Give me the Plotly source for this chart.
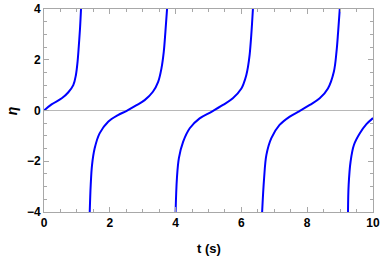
import plotly.graph_objects as go

# Branches of eta(t)
t1 = [0.0, 0.23, 0.54, 0.74, 0.89, 0.97, 1.02, 1.06, 1.095, 1.125]
e1 = [0.0, 0.24, 0.48, 0.72, 1.0, 1.40, 1.92, 2.58, 3.24, 4.0]

t2 = [1.39, 1.42, 1.46, 1.54, 1.69, 1.95, 2.25, 2.5, 2.8, 3.06, 3.31, 3.47, 3.57, 3.64, 3.69, 3.74]
e2 = [-4.0, -2.93, -2.15, -1.49, -0.90, -0.44, -0.18, -0.02, 0.2, 0.41, 0.74, 1.13, 1.66, 2.31, 3.10, 4.0]

t3 = [4.0, 4.04, 4.10, 4.23, 4.43, 4.73, 5.09, 5.44, 5.74, 6.0, 6.07, 6.15, 6.20, 6.25, 6.30, 6.35]
e3 = [-4.0, -2.67, -1.88, -1.23, -0.70, -0.31, -0.05, 0.22, 0.48, 0.87, 1.07, 1.40, 1.72, 2.19, 2.97, 4.0]

t4 = [6.63, 6.69, 6.76, 6.91, 7.16, 7.47, 7.77, 8.08, 8.38, 8.63, 8.81, 8.89, 8.94, 8.99]
e4 = [-4.0, -2.67, -1.75, -1.09, -0.57, -0.24, -0.02, 0.22, 0.48, 0.87, 1.53, 2.31, 3.10, 4.0]

t5 = [9.24, 9.26, 9.32, 9.42, 9.60, 9.80, 10.0]
e5 = [-4.0, -2.93, -2.0, -1.36, -0.90, -0.54, -0.30]

x_ticks = [0, 2, 4, 6, 8, 10]
y_ticks = [-4, -2, 0, 2, 4]

fig = go.Figure()
for tt, ee in [(t1, e1), (t2, e2), (t3, e3), (t4, e4), (t5, e5)]:
    fig.add_trace(go.Scatter(x=tt, y=ee, mode="lines",
                             line=dict(color="#0000ff", width=2, shape="spline", smoothing=1.0),
                             showlegend=False, hoverinfo="skip"))

frame = "#a8a8a8"
fam = "Liberation Sans, Arial, sans-serif"
font_tick = dict(family=fam, size=12, color="black")

fig.update_layout(
    width=382, height=257,
    margin=dict(l=44, r=9, t=9, b=45),
    paper_bgcolor="white", plot_bgcolor="white",
    xaxis=dict(range=[0, 10], tickvals=x_ticks, ticktext=[f"<b>{v}</b>" for v in x_ticks],
               ticks="inside", ticklen=5, tickcolor=frame, tickwidth=1,
               minor=dict(dtick=0.5, ticks="inside", ticklen=3, tickcolor=frame, showgrid=False),
               showline=True, linecolor=frame, linewidth=1, mirror="ticks",
               showgrid=False, zeroline=False, tickfont=font_tick, automargin=False),
    yaxis=dict(range=[-4, 4], tickvals=y_ticks, ticktext=[f"<b>{v}</b>".replace("-", "\u2212") for v in y_ticks],
               ticks="inside", ticklen=5, tickcolor=frame, tickwidth=1,
               minor=dict(dtick=0.5, ticks="inside", ticklen=3, tickcolor=frame, showgrid=False),
               showline=True, linecolor=frame, linewidth=1, mirror="ticks",
               showgrid=False, zeroline=True, zerolinecolor="#b8b8b8", zerolinewidth=1,
               tickfont=font_tick, automargin=False),
    annotations=[
        dict(text="<b>t (s)</b>", xref="paper", yref="paper", x=0.5, y=-0.178,
             xanchor="center", yanchor="middle", showarrow=False,
             font=dict(family=fam, size=13, color="black")),
        dict(text="<b><i>η</i></b>", xref="paper", yref="paper", x=-0.098, y=0.5,
             xanchor="center", yanchor="middle", showarrow=False, textangle=-90,
             font=dict(family=fam, size=14, color="black")),
    ],
)

fig.write_html("out.html", config={"displayModeBar": False},
               post_script="document.body.style.margin='0';")
